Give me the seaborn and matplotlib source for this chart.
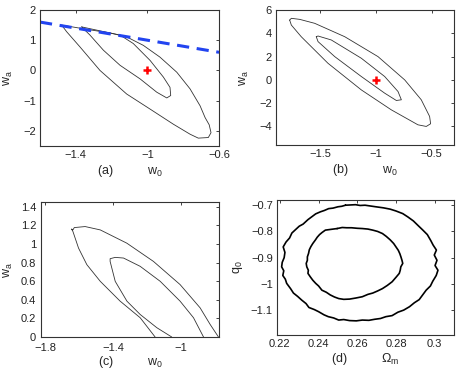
import numpy as np
import matplotlib
matplotlib.use("Agg")
import matplotlib.pyplot as plt
import pandas as pd
import seaborn as sns

# ---- contour data ----
# (a) w0-wa plane
a_outer_w0 = [-1.479, -1.339, -1.209, -1.116, -1.023, -0.930, -0.836, -0.762, -0.706, -0.678,
              -0.655, -0.645, -0.660, -0.716, -0.762, -0.855, -0.985, -1.116, -1.265, -1.377, -1.451, -1.479]
a_outer_wa = [1.50, 1.36, 1.24, 1.11, 0.83, 0.44, -0.06, -0.61, -1.17, -1.56,
              -1.80, -2.06, -2.22, -2.24, -2.11, -1.78, -1.28, -0.78, 0.00, 0.78, 1.28, 1.50]
a_inner_w0 = [-1.367, -1.265, -1.153, -1.079, -0.985, -0.911, -0.874, -0.870, -0.892, -0.948,
              -1.041, -1.153, -1.246, -1.321, -1.367]
a_inner_wa = [1.44, 1.31, 1.17, 0.89, 0.33, -0.22, -0.56, -0.83, -0.91, -0.72,
              -0.28, 0.17, 0.67, 1.17, 1.44]
a_line_w0 = [-1.6, -0.6]
a_line_wa = [1.6, 0.6]

# (b)
b_outer_w0 = [-1.777, -1.762, -1.687, -1.552, -1.282, -0.983, -0.743, -0.594, -0.519, -0.510,
              -0.549, -0.624, -0.864, -1.133, -1.433, -1.673, -1.762, -1.777]
b_outer_wa = [5.14, 5.29, 5.20, 4.86, 3.71, 2.00, 0.00, -1.71, -3.14, -3.77,
              -4.00, -3.86, -2.57, -0.86, 1.43, 3.71, 4.71, 5.14]
b_inner_w0 = [-1.538, -1.522, -1.403, -1.133, -0.923, -0.803, -0.773, -0.818, -0.923, -1.133,
              -1.372, -1.522, -1.538]
b_inner_wa = [3.71, 3.77, 3.43, 1.86, 0.29, -1.00, -1.71, -1.77, -1.14, 0.29,
              2.00, 3.29, 3.71]

# (c) contours cut at wa = 0
c_outer_w0 = [-1.153, -1.241, -1.359, -1.476, -1.555, -1.604, -1.637, -1.645, -1.637, -1.629, -1.600,
              -1.565, -1.476, -1.320, -1.163, -1.006, -0.888, -0.829, -0.780]
c_outer_wa = [0.0, 0.207, 0.385, 0.598, 0.777, 0.955, 1.133, 1.16, 1.15, 1.175, 1.18,
              1.186, 1.15, 1.008, 0.812, 0.563, 0.313, 0.135, 0.0]
c_inner_w0 = [-1.055, -1.143, -1.241, -1.319, -1.388, -1.418, -1.418, -1.388, -1.339, -1.241,
              -1.123, -1.006, -0.927, -0.868]
c_inner_wa = [0.0, 0.100, 0.242, 0.385, 0.598, 0.812, 0.841, 0.855, 0.848, 0.759,
              0.598, 0.385, 0.207, 0.0]

# (d) Omega_m - q0 plane (jagged MCMC contours)
d_outer_om = [0.2539, 0.2520, 0.2500, 0.2475, 0.2452, 0.2430, 0.2410, 0.2385, 0.2365, 0.2345,
              0.2320, 0.2300, 0.2278, 0.2262, 0.2250, 0.2232, 0.2217, 0.2226, 0.2222, 0.2212,
              0.2209, 0.2220, 0.2215, 0.2228, 0.2235, 0.2255, 0.2270, 0.2292, 0.2313, 0.2335,
              0.2350, 0.2378, 0.2400, 0.2428, 0.2450, 0.2478, 0.2504, 0.2530, 0.2560, 0.2595,
              0.2626, 0.2660, 0.2690, 0.2720, 0.2748, 0.2780, 0.2810, 0.2840, 0.2870, 0.2895,
              0.2920, 0.2940, 0.2956, 0.2978, 0.2990, 0.3008, 0.3017, 0.3002, 0.3012, 0.2998,
              0.3009, 0.2992, 0.2980, 0.2962, 0.2939, 0.2915, 0.2890, 0.2862, 0.2835, 0.2800,
              0.2770, 0.2735, 0.2696, 0.2668, 0.2640, 0.2615, 0.2591, 0.2565, 0.2539]
d_outer_q0 = [-0.700, -0.704, -0.706, -0.711, -0.713, -0.720, -0.725, -0.733, -0.744, -0.755,
              -0.772, -0.780, -0.795, -0.806, -0.825, -0.840, -0.859, -0.880, -0.900, -0.918,
              -0.935, -0.950, -0.968, -0.982, -0.998, -1.018, -1.035, -1.048, -1.062, -1.075,
              -1.090, -1.098, -1.106, -1.118, -1.125, -1.130, -1.138, -1.136, -1.140, -1.141,
              -1.138, -1.139, -1.135, -1.132, -1.125, -1.121, -1.108, -1.100, -1.087, -1.072,
              -1.060, -1.040, -1.024, -1.008, -0.990, -0.968, -0.948, -0.930, -0.910, -0.890,
              -0.871, -0.852, -0.835, -0.812, -0.795, -0.778, -0.760, -0.745, -0.732, -0.722,
              -0.715, -0.710, -0.706, -0.703, -0.700, -0.701, -0.698, -0.699, -0.700]
d_inner_om = [0.2496, 0.2465, 0.2435, 0.2418, 0.2405, 0.2393, 0.2383, 0.2370, 0.2360, 0.2352,
              0.2348, 0.2342, 0.2342, 0.2336, 0.2339, 0.2347, 0.2345, 0.2357, 0.2370, 0.2385,
              0.2400, 0.2417, 0.2440, 0.2460, 0.2482, 0.2504, 0.2530, 0.2560, 0.2592, 0.2626,
              0.2655, 0.2680, 0.2705, 0.2730, 0.2755, 0.2780, 0.2800, 0.2817, 0.2822, 0.2825,
              0.2835, 0.2831, 0.2826, 0.2820, 0.2812, 0.2800, 0.2788, 0.2770, 0.2750, 0.2730,
              0.2705, 0.2680, 0.2655, 0.2626, 0.2600, 0.2570, 0.2545, 0.2522, 0.2496]
d_inner_q0 = [-0.789, -0.792, -0.795, -0.804, -0.812, -0.822, -0.833, -0.846, -0.858, -0.870,
              -0.884, -0.897, -0.910, -0.922, -0.935, -0.948, -0.960, -0.973, -0.986, -0.998,
              -1.008, -1.024, -1.032, -1.042, -1.050, -1.056, -1.059, -1.058, -1.054, -1.049,
              -1.040, -1.035, -1.027, -1.018, -1.006, -0.992, -0.975, -0.960, -0.948, -0.935,
              -0.922, -0.910, -0.898, -0.885, -0.872, -0.859, -0.846, -0.832, -0.819, -0.808,
              -0.800, -0.795, -0.791, -0.789, -0.788, -0.786, -0.786, -0.785, -0.789]

best_w0 = [-1.0]
best_wa = [0.0]

sns.set_style("white")
plt.rcParams["font.family"] = ["Liberation Sans", "DejaVu Sans"]
plt.rcParams["mathtext.fontset"] = "custom"
plt.rcParams["mathtext.rm"] = "Liberation Sans"
plt.rcParams["font.size"] = 8
plt.rcParams["xtick.direction"] = "in"
plt.rcParams["ytick.direction"] = "in"
plt.rcParams["xtick.top"] = True
plt.rcParams["ytick.right"] = True
plt.rcParams["xtick.major.size"] = 2.5
plt.rcParams["ytick.major.size"] = 2.5
plt.rcParams["axes.edgecolor"] = "#333333"
plt.rcParams["axes.linewidth"] = 0.8

fig = plt.figure(figsize=(4.58, 3.71), dpi=100)
axA = fig.add_axes([0.0873, 0.6065, 0.391, 0.3666])
axB = fig.add_axes([0.6026, 0.609, 0.3886, 0.3639])
axC = fig.add_axes([0.0895, 0.0916, 0.389, 0.364])
axD = fig.add_axes([0.6048, 0.097, 0.3865, 0.364])


def curve(ax, xs, ys, lw=0.6, color="#333333", ls="-"):
    df = pd.DataFrame({"x": xs, "y": ys})
    sns.lineplot(data=df, x="x", y="y", ax=ax, sort=False, estimator=None,
                 color=color, lw=lw, linestyle=ls)


# (a)
curve(axA, a_outer_w0, a_outer_wa)
curve(axA, a_inner_w0, a_inner_wa)
curve(axA, a_line_w0, a_line_wa, lw=2.2, color="#2244f0", ls=(0, (4, 2.5)))
sns.scatterplot(x=best_w0, y=best_wa, ax=axA, marker="+", s=30, color="red", linewidth=1.8, zorder=5)
axA.set_xlim(-1.6, -0.6)
axA.set_ylim(-2.5, 2)
axA.set_xticks([-1.4, -1, -0.6])
axA.set_xticklabels(["\u22121.4", "\u22121", "\u22120.6"])
axA.set_yticks([-2, -1, 0, 1, 2])
axA.set_yticklabels(["\u22122", "\u22121", "0", "1", "2"])
axA.set_xlabel("(a)          $\\mathregular{w_0}$", labelpad=2, fontsize=9)
axA.set_ylabel("$\\mathregular{w_a}$", labelpad=6, fontsize=9)

# (b)
curve(axB, b_outer_w0, b_outer_wa)
curve(axB, b_inner_w0, b_inner_wa)
sns.scatterplot(x=best_w0, y=best_wa, ax=axB, marker="+", s=30, color="red", linewidth=1.8, zorder=5)
axB.set_xlim(-1.9, -0.3)
axB.set_ylim(-5.6, 6)
axB.set_xticks([-1.5, -1, -0.5])
axB.set_xticklabels(["\u22121.5", "\u22121", "\u22120.5"])
axB.set_yticks([-4, -2, 0, 2, 4, 6])
axB.set_yticklabels(["\u22124", "\u22122", "0", "2", "4", "6"])
axB.set_xlabel("(b)          $\\mathregular{w_0}$", labelpad=2, fontsize=9)
axB.set_ylabel("$\\mathregular{w_a}$", labelpad=6, fontsize=9)

# (c)
curve(axC, c_outer_w0, c_outer_wa)
curve(axC, c_inner_w0, c_inner_wa)
axC.set_xlim(-1.825, -0.776)
axC.set_ylim(0, 1.45)
axC.set_xticks([-1.8, -1.4, -1])
axC.set_xticklabels(["\u22121.8", "\u22121.4", "\u22121"])
axC.set_yticks([0, 0.2, 0.4, 0.6, 0.8, 1, 1.2, 1.4])
axC.set_yticklabels(["0", "0.2", "0.4", "0.6", "0.8", "1", "1.2", "1.4"])
axC.set_xlabel("(c)          $\\mathregular{w_0}$", labelpad=1, fontsize=9)
axC.set_ylabel("$\\mathregular{w_a}$", labelpad=4, fontsize=9)

# (d)
curve(axD, d_outer_om, d_outer_q0, lw=1.2, color="black")
curve(axD, d_inner_om, d_inner_q0, lw=1.2, color="black")
axD.set_xlim(0.2185, 0.31)
axD.set_ylim(-1.195, -0.68)
axD.set_xticks([0.22, 0.24, 0.26, 0.28, 0.3])
axD.set_xticklabels(["0.22", "0.24", "0.26", "0.28", "0.3"])
axD.set_yticks([-1.1, -1, -0.9, -0.8, -0.7])
axD.set_yticklabels(["\u22121.1", "\u22121", "\u22120.9", "\u22120.8", "\u22120.7"])
axD.set_xlabel("(d)          $\\mathregular{\\Omega_m}$", labelpad=1, fontsize=9)
axD.set_ylabel("$\\mathregular{q_0}$", labelpad=4, fontsize=9)

for ax in (axA, axB, axC, axD):
    ax.tick_params(labelsize=8, colors="#222222", width=0.6, pad=3)
axC.tick_params(axis="x", pad=4)
axC.tick_params(axis="y", pad=3.5)

fig.savefig("out.png", dpi=100)
